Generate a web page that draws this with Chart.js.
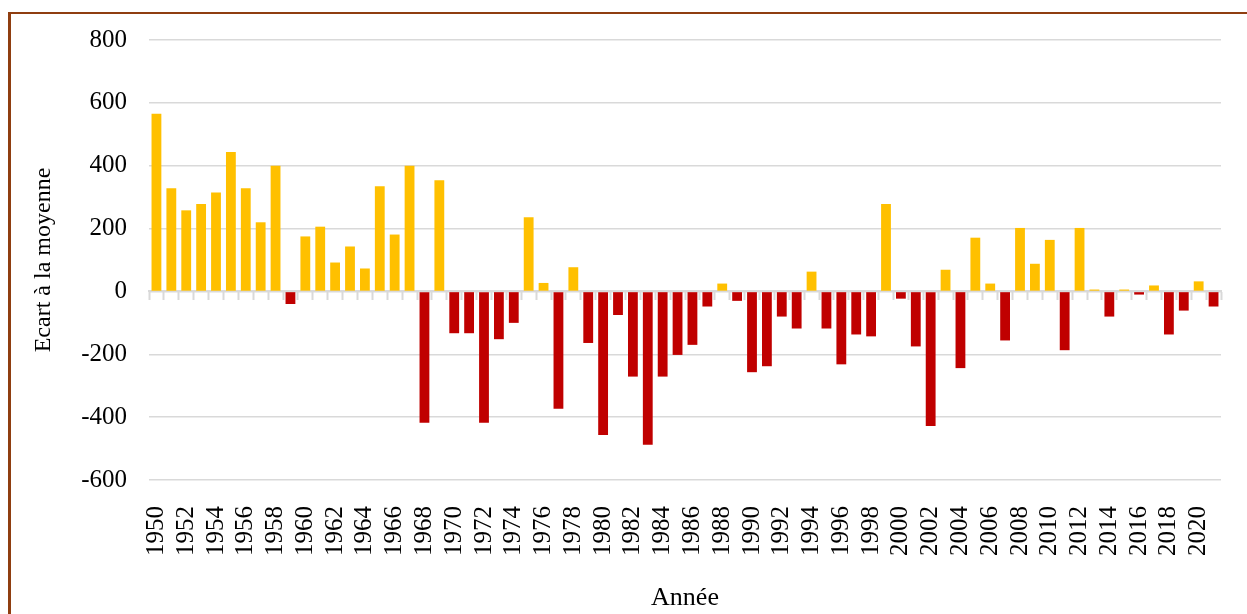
<!DOCTYPE html>
<html>
<head>
<meta charset="utf-8">
<script src="https://cdn.jsdelivr.net/npm/chart.js@4/dist/chart.umd.min.js"></script>
<style>
  html, body { margin: 0; padding: 0; background: #fff; }
  #wrap { position: relative; width: 1247px; height: 614px; overflow: hidden; }
  #frame {
    position: absolute; left: 8px; top: 12px; right: -10px; bottom: -10px;
    border-left: 3px solid #8f3e10; border-top: 2px solid #8f3e10;
    pointer-events: none;
  }
  canvas { position: absolute; left: 0; top: 0; }
</style>
</head>
<body>
<div id="wrap">
  <canvas id="myChart" width="1247" height="614"></canvas>
  <div id="frame"></div>
</div>
<script>
'use strict';

//data
const years = ['1950', '1951', '1952', '1953', '1954', '1955', '1956', '1957', '1958', '1959',
  '1960', '1961', '1962', '1963', '1964', '1965', '1966', '1967', '1968', '1969',
  '1970', '1971', '1972', '1973', '1974', '1975', '1976', '1977', '1978', '1979',
  '1980', '1981', '1982', '1983', '1984', '1985', '1986', '1987', '1988', '1989',
  '1990', '1991', '1992', '1993', '1994', '1995', '1996', '1997', '1998', '1999',
  '2000', '2001', '2002', '2003', '2004', '2005', '2006', '2007', '2008', '2009',
  '2010', '2011', '2012', '2013', '2014', '2015', '2016', '2017', '2018', '2019',
  '2020', '2021'];

const ecarts = [565, 328, 258, 278, 315, 444, 328, 220, 400, -40,
  175, 206, 92, 143, 73, 335, 181, 400, -418, 354,
  -133, -133, -418, -152, -100, 236, 27, -373, 77, -164,
  -457, -75, -271, -488, -271, -202, -170, -48, 25, -30,
  -257, -238, -80, -118, 63, -118, -232, -137, -143, 278,
  -23, -175, -428, 69, -244, 171, 25, -156, 202, 88,
  164, -187, 202, 6, -80, 6, -10, 19, -137, -61,
  32, -48];

const yTicks = [-600, -400, -200, 0, 200, 400, 600, 800];

const yellow = '#ffc000';
const red = '#c00000';
const gridColor = '#d9d9d9';
const serif = 'Liberation Serif';

//bar colour depends on sign
function barColor(ctx) {
  return ctx.raw >= 0 ? yellow : red;
}

const data = {
  labels: years,
  datasets: [{
    label: 'Ecart à la moyenne',
    data: ecarts,
    backgroundColor: barColor,
    borderWidth: 0,
    barPercentage: 0.66,
    categoryPercentage: 1
  }]
};

const config = {
  type: 'bar',
  data: data,
  options: {
    responsive: false,
    animation: false,
    layout: {
      padding: { left: 29, right: 26, top: 40, bottom: 0 }
    },
    plugins: {
      legend: { display: false },
      tooltip: { enabled: false }
    },
    scales: {
      x: {
        position: 'bottom',
        grid: { display: false },
        border: { display: false },
        ticks: {
          autoSkip: false,
          minRotation: 90,
          maxRotation: 90,
          padding: 18,
          color: '#000',
          font: { family: serif, size: 25 },
          callback: function (val, i) {
            return i % 2 === 0 ? years[i] : '';
          }
        },
        title: {
          display: true,
          text: 'Année',
          color: '#000',
          font: { family: serif, size: 26 },
          padding: { top: 4, bottom: 0 }
        },
        afterFit: function (scale) {
          scale.height = 134;
          //rotated labels should not push the plot edges in
          scale.paddingLeft = 0;
          scale.paddingRight = 0;
        }
      },
      // axis line with tick marks sitting on zero
      x0: {
        type: 'category',
        position: { y: 0 },
        offset: true,
        grid: {
          offset: true,
          drawOnChartArea: false,
          drawTicks: true,
          tickLength: 8,
          tickWidth: 2,
          tickColor: gridColor
        },
        border: { display: true, color: gridColor, width: 2 },
        ticks: { display: false, autoSkip: false }
      },
      y: {
        min: -600,
        max: 800,
        afterBuildTicks: function (scale) {
          scale.ticks = yTicks.map(v => ({ value: v }));
        },
        grid: {
          color: gridColor,
          lineWidth: 1.5,
          drawTicks: false
        },
        border: { display: false },
        ticks: {
          padding: 22,
          color: '#000',
          font: { family: serif, size: 25 }
        },
        title: {
          display: true,
          text: 'Ecart à la moyenne',
          color: '#000',
          font: { family: serif, size: 24 },
          padding: 0
        },
        afterFit: function (scale) {
          scale.width = 120;
        }
      }
    }
  }
};

const myChart = new Chart(
  document.getElementById('myChart'),
  config
);
</script>
</body>
</html>
